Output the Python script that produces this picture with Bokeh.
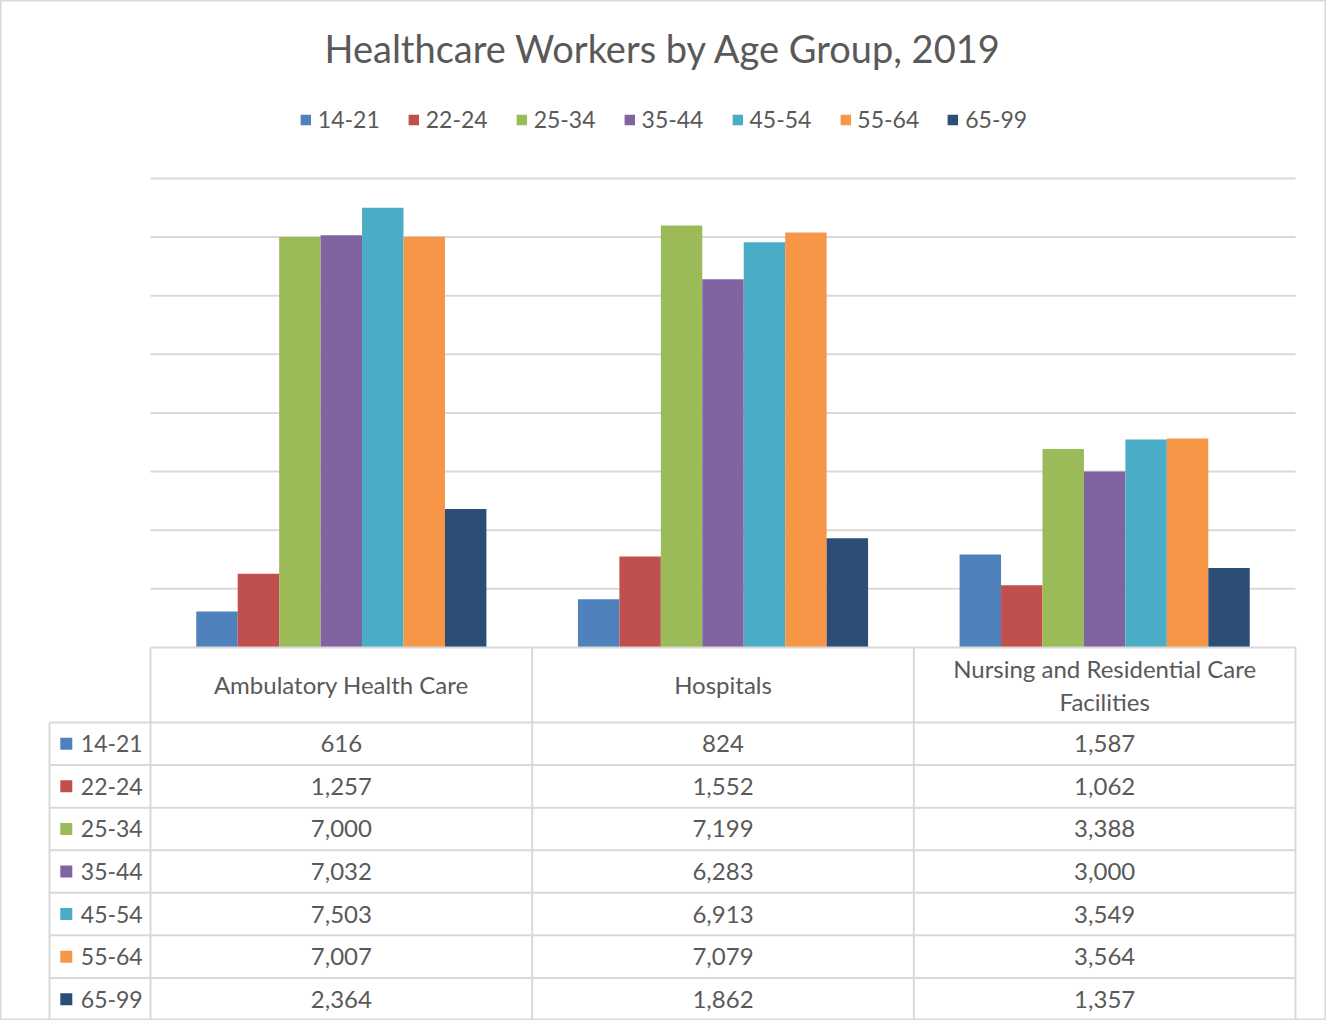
from bokeh.plotting import figure
from bokeh.models import Range1d, Legend, LegendItem
from bokeh.core.properties import value
from bokeh.embed import file_html
from bokeh.resources import INLINE

# ---------------- data ----------------
title_text = "Healthcare Workers by Age Group, 2019"
categories = ["Ambulatory Health Care", "Hospitals", "Nursing and Residential Care\nFacilities"]
age_groups = ["14-21", "22-24", "25-34", "35-44", "45-54", "55-64", "65-99"]
colors = ["#4F81BD", "#C0504D", "#9BBB59", "#8064A2", "#4BACC6", "#F79646", "#2C4D75"]
ambulatory = [616, 1257, 7000, 7032, 7503, 7007, 2364]
hospitals = [824, 1552, 7199, 6283, 6913, 7079, 1862]
nursing = [1587, 1062, 3388, 3000, 3549, 3564, 1357]
grid_values = [1000, 2000, 3000, 4000, 5000, 6000, 7000, 8000]

values_by_cat = [ambulatory, hospitals, nursing]

# ---------------- layout constants ----------------
FONT = "Lato"
TXT = "#595959"
LINE = "#d9d9d9"
W, H = 1326, 1020
n_cat = len(categories)
n_ser = len(age_groups)
bar_w = 0.1086
label_col = 0.2646          # width of the row-label column (category units)
header_h = 1.762            # header row height in table-row units

p = figure(width=W, height=H, x_range=Range1d(-0.393, 3.0812),
           y_range=Range1d(-6362.5, 11036.2),
           output_backend="svg", toolbar_location=None, tools="",
           x_axis_location=None, y_axis_location=None, min_border=0)
p.grid.visible = False
p.outline_line_color = LINE
p.outline_line_width = 2
p.background_fill_color = "white"
p.extra_y_ranges = {"tbl": Range1d(start=7.0, end=-16.96)}

# gridlines
p.segment(x0=0, x1=n_cat, y0=grid_values, y1=grid_values, line_color=LINE, line_width=2)

# bars
items = []
for j, g in enumerate(age_groups):
    xs = [i + 0.5 + (j - (n_ser - 1) / 2) * bar_w for i in range(n_cat)]
    tops = [vals[j] for vals in values_by_cat]
    r = p.vbar(x=xs, top=tops, bottom=0, width=bar_w, fill_color=colors[j], line_color=None)
    items.append(LegendItem(label=g, renderers=[r]))

legend = Legend(items=items, orientation="horizontal", location="top_center",
                glyph_width=13, glyph_height=13, label_standoff=6, spacing=27,
                label_text_font=FONT, label_text_font_size="23px", label_text_color=TXT,
                border_line_alpha=0, background_fill_alpha=0, padding=0, margin=105)
p.add_layout(legend)

# title
p.text(x=[(p.x_range.start + p.x_range.end) / 2], y=[10220], text=[title_text],
       text_font=value(FONT), text_font_size="38px", text_color=TXT,
       text_align="center", text_baseline="middle")

# ---------------- data table ----------------
n_rows = n_ser
# horizontal lines
p.segment(x0=0, x1=n_cat, y0=-header_h, y1=-header_h, line_color=LINE, line_width=2, y_range_name="tbl")
p.segment(x0=-label_col, x1=n_cat, y0=list(range(n_rows + 1)), y1=list(range(n_rows + 1)),
          line_color=LINE, line_width=2, y_range_name="tbl")
# vertical lines
p.segment(x0=list(range(n_cat + 1)), x1=list(range(n_cat + 1)), y0=-header_h, y1=n_rows,
          line_color=LINE, line_width=2, y_range_name="tbl")
p.segment(x0=-label_col, x1=-label_col, y0=0, y1=n_rows, line_color=LINE, line_width=2, y_range_name="tbl")

# header texts
p.text(x=[i + 0.5 for i in range(n_cat)], y=[-header_h / 2] * n_cat, text=categories,
       text_font=value(FONT), text_font_size="24px", text_color=TXT,
       text_align="center", text_baseline="middle", text_line_height=1.12, y_range_name="tbl")

# cell values
cx, cy, ct = [], [], []
for r in range(n_rows):
    for i in range(n_cat):
        cx.append(i + 0.5)
        cy.append(r + 0.5)
        ct.append(f"{values_by_cat[i][r]:,}")
p.text(x=cx, y=cy, text=ct, text_font=value(FONT), text_font_size="24px", text_color=TXT,
       text_align="center", text_baseline="middle", y_range_name="tbl")

# row legend keys and labels
row_y = [r + 0.5 for r in range(n_rows)]
p.scatter(x=[-label_col + 0.044] * n_rows, y=row_y, marker="square", size=12,
          fill_color=colors, line_color=None, y_range_name="tbl")
p.text(x=[-label_col + 0.082] * n_rows, y=row_y, text=age_groups, text_font=value(FONT),
       text_font_size="23px", text_color=TXT, text_align="left", text_baseline="middle",
       y_range_name="tbl")

open("out.html", "w").write(file_html(p, INLINE))
